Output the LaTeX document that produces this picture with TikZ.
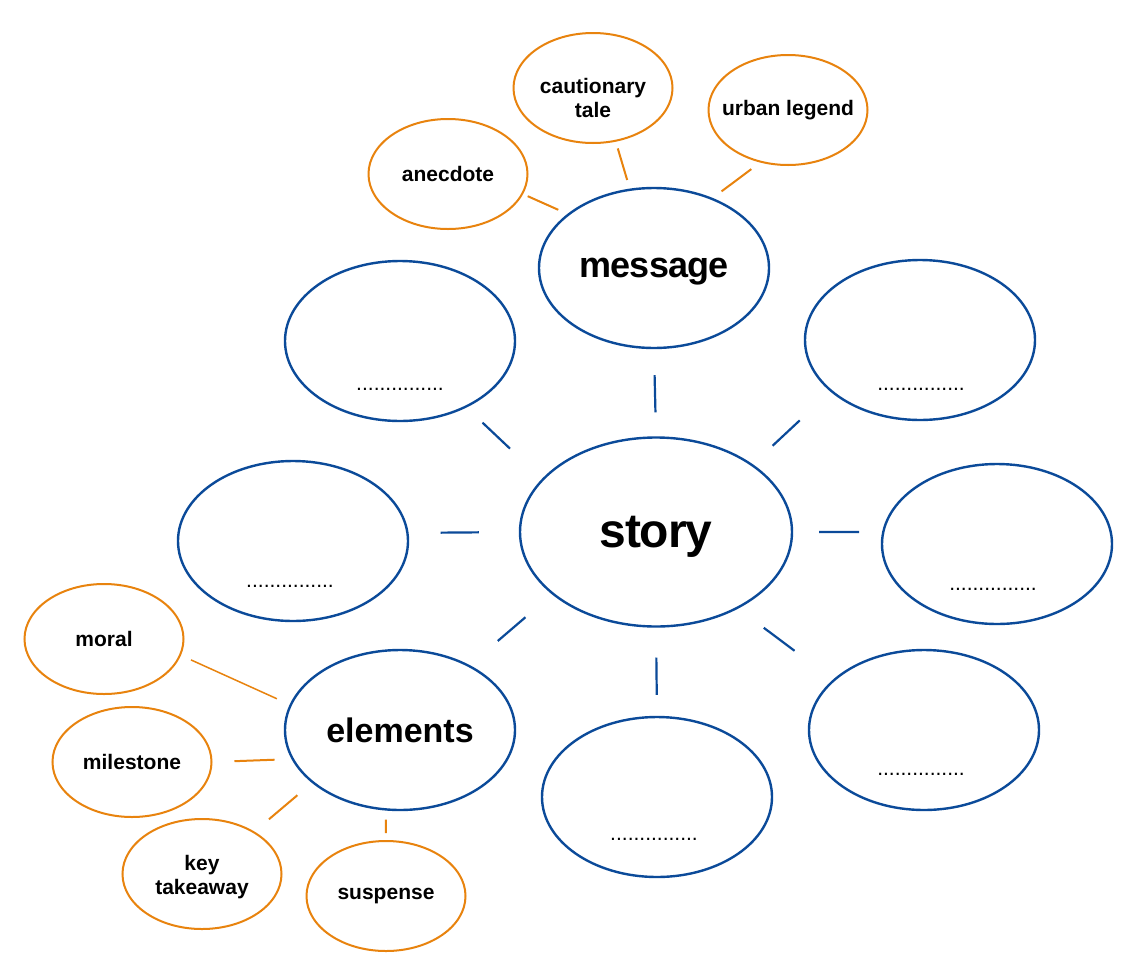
\documentclass[tikz,border=0pt]{standalone}
\usepackage{fontspec}
\setmainfont{Liberation Sans}
\newfontfamily\tightfont{Liberation Sans}[LetterSpace=-2.5]
\usetikzlibrary{shapes.geometric}
\definecolor{hubblue}{HTML}{0B4A99}
\definecolor{leaforange}{HTML}{E8830E}

\begin{document}
\begin{tikzpicture}[x=1pt,y=-1pt,
    hub/.style={ellipse,draw=hubblue,line width=2.4pt,inner sep=0pt,minimum width=230pt,minimum height=160pt},
    leaf/.style={ellipse,draw=leaforange,line width=2pt,inner sep=0pt,inner xsep=-15pt,minimum width=159pt,minimum height=110pt,align=center,font=\fontsize{21}{24}\selectfont\bfseries},
    leaftext/.style={inner sep=0pt,align=center,font=\fontsize{21}{24}\selectfont\bfseries},
    blank/.style={anchor=base,inner sep=0pt,font=\fontsize{21}{24}\selectfont},
    spoke/.style={hubblue,line width=2.2pt},
    twig/.style={leaforange,line width=2pt}]
    \path[use as bounding box,fill=white] (0,0) rectangle (1135,956);

    % centre and the ring of ideas
    \node[hub,minimum width=272pt,minimum height=189pt,text depth=0pt,font=\tightfont\bfseries\fontsize{48}{52}\selectfont] (story) at (656,532) {story};
    \node[hub,text depth=0pt,font=\tightfont\bfseries\fontsize{36}{40}\selectfont] (msg) at (654,268) {message};
    \node[hub,font=\bfseries\fontsize{34}{38}\selectfont] (elem) at (400,730) {elements};
    \node[hub] (tl) at (400,341) {};
    \node[hub] (tr) at (920,340) {};
    \node[hub] (lf) at (293,541) {};
    \node[hub] (rt) at (997,544) {};
    \node[hub] (bt) at (657,797) {};
    \node[hub] (br) at (924,730) {};

    \node[blank] (tl-dots) at (400,390) {...............};
    \node[blank] (tr-dots) at (921,390) {...............};
    \node[blank] (lf-dots) at (290,587) {...............};
    \node[blank] (rt-dots) at (993,590) {...............};
    \node[blank] (bt-dots) at (654,840) {...............};
    \node[blank] (br-dots) at (921,775) {...............};

    % orange bubbles
    \node[leaf] (anec) at (448,174) {anecdote};
    \node[leaf] (caut) at (593,88) {};
    \node[leaftext] (caut-text) at (593,98) {cautionary\\tale};
    \node[leaf] (urban) at (788,110) {urban legend};
    \node[leaf] (moral) at (104,639) {moral};
    \node[leaf] (mile) at (132,762) {milestone};
    \node[leaf] (key) at (202,874) {};
    \node[leaftext] (key-text) at (202,877) {key\\takeaway};
    \node[leaf] (susp) at (386,896) {suspense};

    \path[spoke]
    (story.north) edge[shorten <=24pt,shorten >=26pt] (msg.south)
    (story.155) edge[shorten <=44pt,shorten >=22pt] (tl.-45)
    (story.35) edge[shorten <=27pt,shorten >=42pt] (tr.210)
    (story.west) edge[shorten <=40pt,shorten >=32pt] (lf.4)
    (story.east) edge[shorten <=26pt,shorten >=23pt] (rt.174)
    (story.211) edge[shorten <=35pt,shorten >=37pt] (elem.43)
    (story.south) edge[shorten <=30pt,shorten >=21pt] (bt.north)
    (story.-43) edge[shorten <=32pt,shorten >=48pt] (br.151);

    \path[twig]
    (msg.148) edge[shorten <=10pt,shorten >=5pt] (anec.-15)
    (msg.107) edge[shorten <=9pt,shorten >=7pt] (caut.-67)
    (msg.50) edge[shorten <=11pt,shorten >=11pt] (urban.242)
    (elem.167) edge[line width=1.5pt,shorten <=14pt,shorten >=11pt] (moral.-12)
    (elem.195) edge[shorten <=17pt,shorten >=22pt] (mile.east)
    (elem.211) edge[shorten <=19pt,shorten >=19pt] (key.39)
    (elem.260) edge[shorten <=9pt,shorten >=7pt] (susp.north);
\end{tikzpicture}
\end{document}
